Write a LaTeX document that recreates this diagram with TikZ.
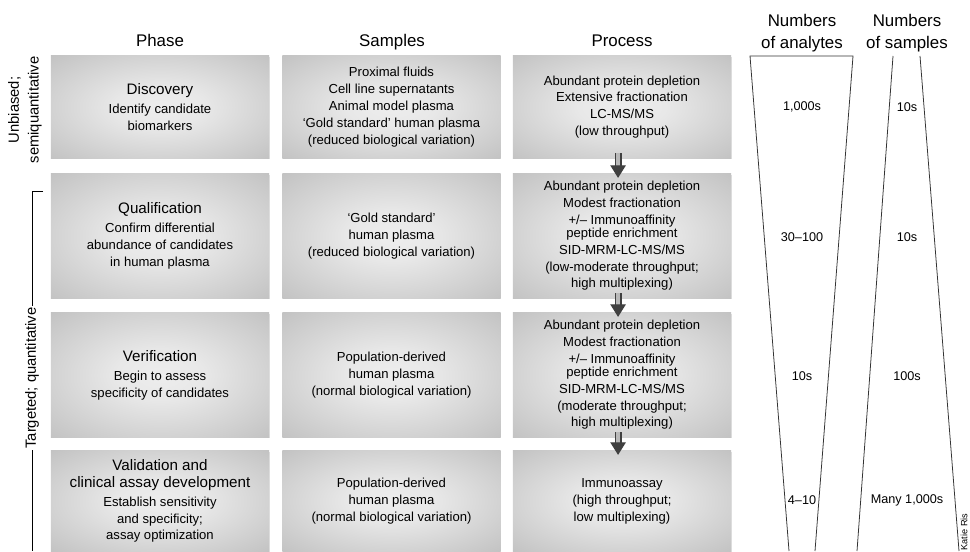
\documentclass[tikz,border=0pt]{standalone}
\usepackage{fontspec}
\setmainfont{Liberation Sans}
\usetikzlibrary{arrows.meta,shadows}

\newcommand\stagename[1]{{\fontsize{10.8}{13}\selectfont #1}}
\pgfdeclareradialshading{stageshade}{\pgfpoint{0bp}{0bp}}{color(0bp)=(gray!14); color(10bp)=(gray!18); color(50bp)=(gray!64); color(70bp)=(gray!70)}

\tikzset{
  stage/.style={shading=stageshade,
    drop shadow={shadow xshift=0.5pt, shadow yshift=-0.8pt, opacity=0.25},
    minimum width=5.45cm, inner sep=0pt, align=center,
    font=\fontsize{9.3}{12}\selectfont},
  colhead/.style={font=\fontsize{12}{15.6}\selectfont, align=center},
  count/.style={font=\fontsize{9}{11}\selectfont},
  sidelabel/.style={font=\fontsize{10.5}{14}\selectfont, align=center, rotate=90},
  funnel/.style={draw=black!80, line width=0.55pt},
  flow/.style={draw=black!75, line width=0.9pt, double=gray!55, double distance=3.2pt,
    -{Triangle[width=11pt,length=9pt]}, shorten <=-3.5pt, shorten >=-3pt}
}

\begin{document}
\begin{tikzpicture}[x=0.025cm, y=-0.025cm]
    \useasboundingbox (0,0) rectangle (970,551);
    % column heads
    \node[colhead, anchor=base] (hphase) at (160,47) {Phase};
    \node[colhead, anchor=base] (hsamp) at (392,47) {Samples};
    \node[colhead, anchor=base] (hproc) at (622,47) {Process};
    \node[colhead] (hanal) at (802,33) {Numbers\\of analytes};
    \node[colhead] (hnsamp) at (907,33) {Numbers\\of samples};

    % phases
    \node[stage, minimum height=2.55cm] (disc) at (160,107)
        {\stagename{Discovery}\\[1.5pt] Identify candidate\\biomarkers};
    \node[stage, minimum height=3.1cm] (qual) at (160,236)
        {\stagename{Qualification}\\[1.5pt] Confirm differential\\abundance of candidates\\in human plasma};
    \node[stage, minimum height=3.1cm] (veri) at (160,375)
        {\stagename{Verification}\\[1.5pt] Begin to assess\\specificity of candidates};
    \node[stage, minimum height=2.5cm] (vali) at (160,501)
        {\stagename{Validation and}\\\stagename{clinical assay development}\\[1.5pt]
         Establish sensitivity\\and specificity;\\assay optimization};

    % samples
    \node[stage, minimum height=2.55cm] (samp1) at (391.5,107)
        {Proximal fluids\\Cell line supernatants\\Animal model plasma\\‘Gold standard’ human plasma\\(reduced biological variation)};
    \node[stage, minimum height=3.1cm] (samp2) at (391.5,236)
        {‘Gold standard’\\human plasma\\(reduced biological variation)};
    \node[stage, minimum height=3.1cm] (samp3) at (391.5,375)
        {Population-derived\\human plasma\\(normal biological variation)};
    \node[stage, minimum height=2.5cm] (samp4) at (391.5,501)
        {Population-derived\\human plasma\\(normal biological variation)};

    % process
    \node[stage, minimum height=2.55cm] (proc1) at (622,107)
        {Abundant protein depletion\\Extensive fractionation\\LC-MS/MS\\(low throughput)};
    \node[stage, minimum height=3.1cm] (proc2) at (622,236)
        {Abundant protein depletion\\Modest fractionation\\+/– Immunoaffinity\\[-3pt]peptide enrichment\\SID-MRM-LC-MS/MS\\(low-moderate throughput;\\high multiplexing)};
    \node[stage, minimum height=3.1cm] (proc3) at (622,375)
        {Abundant protein depletion\\Modest fractionation\\+/– Immunoaffinity\\[-3pt]peptide enrichment\\SID-MRM-LC-MS/MS\\(moderate throughput;\\high multiplexing)};
    \node[stage, minimum height=2.5cm] (proc4) at (622,501)
        {Immunoassay\\(high throughput;\\low multiplexing)};

    \draw[flow] ([xshift=-2.8pt]proc1.south) -- ([xshift=-2.8pt]proc2.north);
    \draw[flow] ([xshift=-2.8pt]proc2.south) -- ([xshift=-2.8pt]proc3.north);
    \draw[flow] ([xshift=-2.8pt]proc3.south) -- ([xshift=-2.8pt]proc4.north);

    % side labels
    \node[sidelabel] (unbiased) at (25,110) {Unbiased;\\semiquantitative};
    \draw (43,191) -- (32,191) -- (32,551);
    \node[sidelabel, fill=white, inner sep=1pt] (targeted) at (32,378) {Targeted; quantitative};

    % funnels
    \draw[funnel] (789,551) -- (750,56) -- (853,56) -- (815,551);
    \draw[funnel] (893,56) -- (857,551);
    \draw[funnel] (920,56) -- (959,551);
    \foreach \y/\na/\ns [count=\i] in {107/{1,000s}/10s, 237/30–100/10s, 376/10s/100s, 500/4–10/{Many 1,000s}} {
        \node[count] (anal\i) at (802,\y) {\na};
        \node[count] (nsamp\i) at (907,\y) {\ns};
    }
    \node[rotate=90, font=\fontsize{6.5}{7}\selectfont] (credit) at (964,532) {Katie Ris};
\end{tikzpicture}
\end{document}
